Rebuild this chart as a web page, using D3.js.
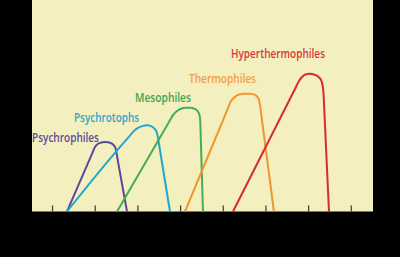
<!DOCTYPE html>
<html><head><meta charset="utf-8">
<script src="https://cdn.jsdelivr.net/npm/d3@7"></script>
<style>html,body{margin:0;padding:0;background:#000;}svg{display:block;}</style>
</head><body>
<script>
// x: temperature-like units (ticks every 10), y: relative growth rate
const tickValues = [0, 10, 20, 30, 40, 50, 60, 70];
const seriesNames = ["Psychrophiles", "Psychrotophs", "Mesophiles", "Thermophiles", "Hyperthermophiles"];
const psychrophiles = [[3.50,0],[9.36,27.2],[10.06,30.5],[10.76,32.0],[11.70,32.7],[12.64,32.9],[13.57,32.5],[14.28,31.7],[14.86,30.0],[15.10,27.7],[15.45,23.6],[17.56,0]];
const psychrotophs = [[3.50,0],[18.26,35.9],[19.43,38.5],[20.37,39.8],[21.31,40.5],[22.25,40.8],[23.18,40.4],[24.0,39.2],[24.59,37.1],[24.82,34.8],[25.17,30.5],[27.63,0]];
const mesophiles = [[15.22,0],[27.40,42.3],[28.34,45.6],[29.28,47.5],[30.21,48.6],[31.38,49.0],[32.32,49.0],[33.26,48.7],[34.08,47.5],[34.55,45.6],[34.73,42.7],[34.80,38.0],[35.36,0]];
const thermophiles = [[31.15,0],[40.99,47.7],[41.92,52.2],[42.86,54.2],[43.80,55.3],[44.97,55.7],[46.14,55.7],[47.08,55.5],[47.90,54.6],[48.44,53.0],[48.72,50.4],[49.0,46.1],[51.99,0]];
const hyperthermophiles = [[42.39,0],[56.92,57.9],[57.86,61.7],[58.56,63.6],[59.38,64.8],[60.44,65.1],[61.37,64.8],[62.31,63.8],[63.01,62.2],[63.41,59.3],[63.60,56.0],[63.72,50.8],[64.89,0]];
const seriesValues = [psychrophiles, psychrotophs, mesophiles, thermophiles, hyperthermophiles];

const W = 400, H = 257;
const colors = ["#5a4a9e", "#22a8cc", "#45ad55", "#f0962c", "#d92a30"];
const labelColors = ["#5b4b9b", "#2aa7c9", "#3aa652", "#f2a040", "#d9363a"];
// label anchor (left x px, baseline y px) and target widths
const labelPos = [[32,142,67],[74,122,65],[135,102,56],[189,83,67],[231,58,94]];

const x = d3.scaleLinear().domain([-4.7, 75.2]).range([32, 373]);
const y = d3.scaleLinear().domain([0, 100]).range([211.5, 0]);

const svg = d3.select("body").append("svg").attr("width", W).attr("height", H);
svg.append("rect").attr("width", W).attr("height", H).attr("fill", "#000");
svg.append("rect").attr("x", x(-4.7)).attr("y", 0)
  .attr("width", x(75.2) - x(-4.7)).attr("height", y(0)).attr("fill", "#f3efbf");

const axis = d3.axisTop(x).tickValues(tickValues).tickSize(6).tickFormat("");
const ag = svg.append("g").attr("transform", `translate(0,${y(0)})`).call(axis);
ag.select(".domain").remove();
ag.selectAll(".tick line").attr("stroke", "#3a3a30").attr("stroke-width", 1.2);

const line = d3.line().x(d => x(d[0])).y(d => y(d[1])).curve(d3.curveMonotoneX);
const g = svg.append("g");
seriesValues.forEach((s, i) => {
  g.append("path").attr("d", line(s)).attr("fill", "none")
    .attr("stroke", colors[i]).attr("stroke-width", 2).attr("stroke-linejoin", "round");
});

seriesNames.forEach((n, i) => {
  const p = labelPos[i];
  svg.append("text").attr("x", p[0]).attr("y", p[1])
    .attr("font-family", "'Open Sans', sans-serif").attr("font-weight", 600)
    .attr("font-size", 12).attr("fill", labelColors[i])
    .attr("textLength", p[2]).attr("lengthAdjust", "spacingAndGlyphs")
    .text(n);
});
</script>
</body></html>
